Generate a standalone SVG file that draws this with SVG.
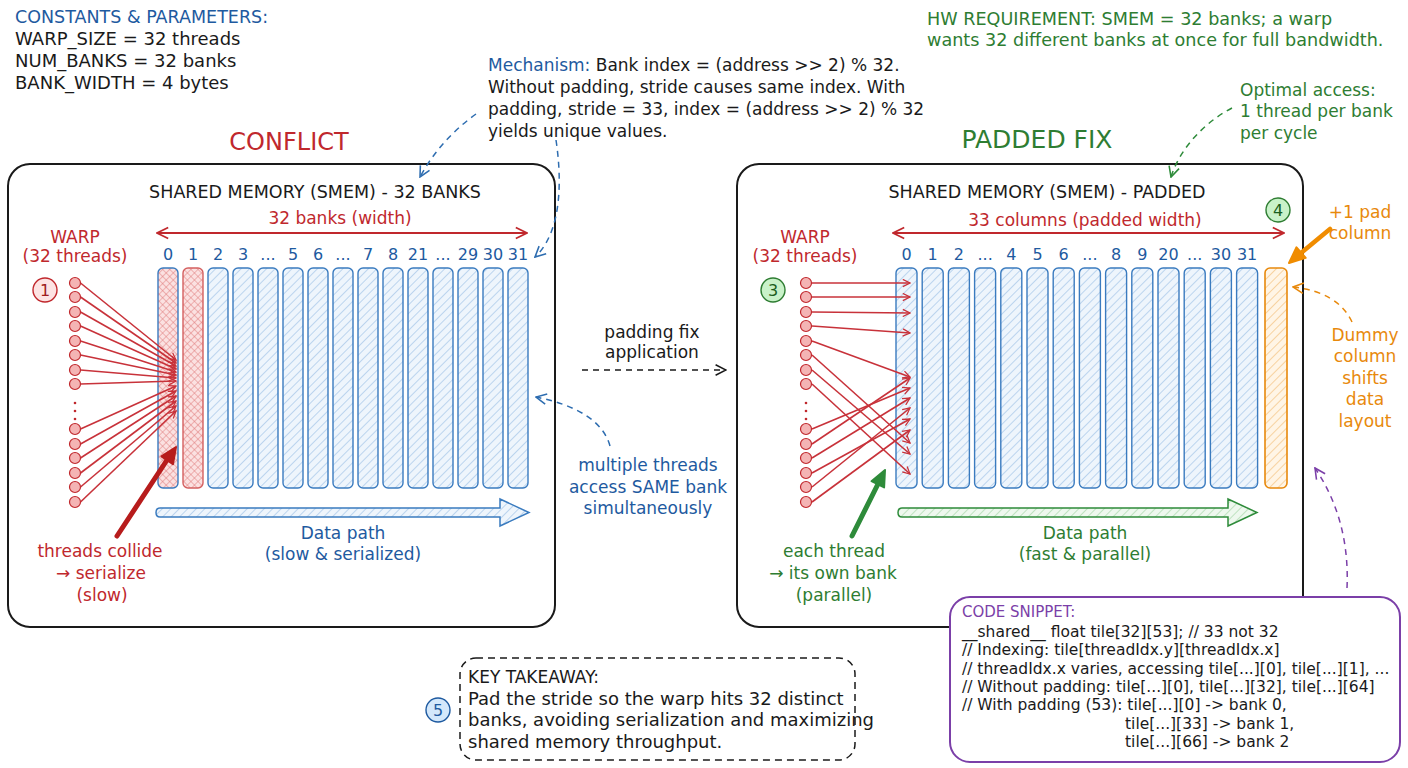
<svg xmlns="http://www.w3.org/2000/svg" width="1408" height="768" viewBox="0 0 1408 768">
<defs>
<style>
text { font-family: "DejaVu Sans", "Liberation Sans", sans-serif; }
.t18 { font-size: 18px; }
.t17 { font-size: 17px; }
.t16 { font-size: 16px; }
.t15 { font-size: 15.5px; }
.mid { text-anchor: middle; }
.blue { fill: #1e5aa0; }
.red { fill: #c0282d; }
.green { fill: #2e7d32; }
.orange { fill: #e8890c; }
.purple { fill: #7b3fa8; }
.ink { fill: #1a1a1a; }
.col { stroke: #3a7bbf; stroke-width: 1.4; fill: url(#hatchBlue); }
.thr { fill: #f4b4b4; stroke: #c0282d; stroke-width: 1.2; }
.tl { stroke: #c8323a; stroke-width: 1.6; fill: none; marker-end: url(#mThr); }
.dash { fill: none; stroke-width: 1.5; stroke-dasharray: 6 5; }
</style>
<pattern id="hatchBlue" width="6" height="6" patternUnits="userSpaceOnUse" patternTransform="rotate(45)">
<rect width="6" height="6" fill="#eef5fc"/>
<line x1="0" y1="0" x2="0" y2="6" stroke="#9fc3e7" stroke-width="1.3"/>
</pattern>
<pattern id="hatchRed" width="5" height="5" patternUnits="userSpaceOnUse" patternTransform="rotate(45)">
<rect width="5" height="5" fill="#fbe1e1"/>
<path d="M0 0V5M0 0H5" stroke="#e07b7b" stroke-width="1"/>
</pattern>
<pattern id="hatchGreen" width="6" height="6" patternUnits="userSpaceOnUse" patternTransform="rotate(45)">
<rect width="6" height="6" fill="#eef8ee"/>
<line x1="0" y1="0" x2="0" y2="6" stroke="#a5d6a7" stroke-width="1.3"/>
</pattern>
<pattern id="hatchOrange" width="6" height="6" patternUnits="userSpaceOnUse" patternTransform="rotate(45)">
<rect width="6" height="6" fill="#fff5e6"/>
<line x1="0" y1="0" x2="0" y2="6" stroke="#f3c07a" stroke-width="1.3"/>
</pattern>
<marker id="mThr" viewBox="0 0 10 10" refX="9" refY="5" markerWidth="9" markerHeight="9" markerUnits="userSpaceOnUse" orient="auto">
<path d="M1 1 L9 5 L1 9" fill="none" stroke="#c8323a" stroke-width="1.4"/>
</marker>
<marker id="mRedBig" viewBox="0 0 10 10" refX="9" refY="5" markerWidth="14" markerHeight="14" markerUnits="userSpaceOnUse" orient="auto-start-reverse">
<path d="M1 1 L9 5 L1 9" fill="none" stroke="#c0282d" stroke-width="1.2"/>
</marker>
<marker id="mBlue" viewBox="0 0 10 10" refX="9" refY="5" markerWidth="13" markerHeight="13" markerUnits="userSpaceOnUse" orient="auto">
<path d="M1 1 L9 5 L1 9" fill="none" stroke="#2e6db0" stroke-width="1.2"/>
</marker>
<marker id="mBlack" viewBox="0 0 10 10" refX="9" refY="5" markerWidth="13" markerHeight="13" markerUnits="userSpaceOnUse" orient="auto">
<path d="M1 1 L9 5 L1 9" fill="none" stroke="#1a1a1a" stroke-width="1.2"/>
</marker>
<marker id="mGreen" viewBox="0 0 10 10" refX="9" refY="5" markerWidth="13" markerHeight="13" markerUnits="userSpaceOnUse" orient="auto">
<path d="M1 1 L9 5 L1 9" fill="none" stroke="#2e8b3a" stroke-width="1.2"/>
</marker>
<marker id="mOrange" viewBox="0 0 10 10" refX="9" refY="5" markerWidth="13" markerHeight="13" markerUnits="userSpaceOnUse" orient="auto">
<path d="M1 1 L9 5 L1 9" fill="none" stroke="#e8890c" stroke-width="1.2"/>
</marker>
<marker id="mPurple" viewBox="0 0 10 10" refX="9" refY="5" markerWidth="13" markerHeight="13" markerUnits="userSpaceOnUse" orient="auto">
<path d="M1 1 L9 5 L1 9" fill="none" stroke="#7b3fa8" stroke-width="1.2"/>
</marker>
</defs>

<rect width="1408" height="768" fill="#ffffff"/>

<!-- Top annotations -->
<g id="constants">
<text x="15" y="23" class="blue" style="font-size:17.5px">CONSTANTS &amp; PARAMETERS:</text>
<text x="15" y="45" class="ink t18">WARP_SIZE = 32 threads</text>
<text x="15" y="67" class="ink t18">NUM_BANKS = 32 banks</text>
<text x="15" y="89" class="ink t18">BANK_WIDTH = 4 bytes</text>
</g>

<g id="mechanism">
<text x="488" y="71" class="t17 ink"><tspan class="blue">Mechanism:</tspan> Bank index = (address &gt;&gt; 2) % 32.</text>
<text x="488" y="93" class="t17 ink">Without padding, stride causes same index. With</text>
<text x="488" y="115" class="t17 ink">padding, stride = 33, index = (address &gt;&gt; 2) % 32</text>
<text x="488" y="137" class="t17 ink">yields unique values.</text>
</g>

<g id="hw-requirement">
<text x="927" y="25" class="green" style="font-size:17.6px">HW REQUIREMENT: SMEM = 32 banks; a warp</text>
<text x="927" y="46" class="green" style="font-size:17.6px">wants 32 different banks at once for full bandwidth.</text>
</g>

<g id="optimal-access">
<text x="1240" y="96" class="t17 green">Optimal access:</text>
<text x="1240" y="117" class="t17 green">1 thread per bank</text>
<text x="1240" y="139" class="t17 green">per cycle</text>
</g>

<text x="289" y="150" class="mid red" style="font-size:24px">CONFLICT</text>
<text x="1037" y="148" class="mid green" style="font-size:25px">PADDED FIX</text>

<!-- Left panel -->
<g id="conflict-panel">
<rect x="8" y="164" width="547" height="463" rx="22" fill="#ffffff" stroke="#1a1a1a" stroke-width="2"/>
<text x="315" y="198" class="mid ink" style="font-size:17.5px">SHARED MEMORY (SMEM) - 32 BANKS</text>
<text x="340" y="224" class="mid red t17">32 banks (width)</text>
<line x1="157" y1="233" x2="527" y2="233" stroke="#c0282d" stroke-width="1.8" marker-start="url(#mRedBig)" marker-end="url(#mRedBig)"/>
<text x="75" y="243" class="mid red t17">WARP</text>
<text x="75" y="262" class="mid red t17">(32 threads)</text>
<g class="blue t16 mid">
<text x="168" y="260">0</text><text x="193" y="260">1</text><text x="218" y="260">2</text><text x="243" y="260">3</text>
<text x="268" y="260">...</text><text x="293" y="260">5</text><text x="318" y="260">6</text><text x="343" y="260">...</text>
<text x="368" y="260">7</text><text x="393" y="260">8</text><text x="418" y="260">21</text><text x="443" y="260">...</text>
<text x="468" y="260">29</text><text x="493" y="260">30</text><text x="518" y="260">31</text>
</g>
<rect x="158" y="268" width="20" height="220" rx="5" fill="url(#hatchRed)" stroke="#3a7bbf" stroke-width="1.4"/>
<rect x="183" y="268" width="20" height="220" rx="5" fill="url(#hatchRed)" stroke="#d46060" stroke-width="1.4"/>
<rect class="col" x="208" y="268" width="20" height="220" rx="5"/>
<rect class="col" x="233" y="268" width="20" height="220" rx="5"/>
<rect class="col" x="258" y="268" width="20" height="220" rx="5"/>
<rect class="col" x="283" y="268" width="20" height="220" rx="5"/>
<rect class="col" x="308" y="268" width="20" height="220" rx="5"/>
<rect class="col" x="333" y="268" width="20" height="220" rx="5"/>
<rect class="col" x="358" y="268" width="20" height="220" rx="5"/>
<rect class="col" x="383" y="268" width="20" height="220" rx="5"/>
<rect class="col" x="408" y="268" width="20" height="220" rx="5"/>
<rect class="col" x="433" y="268" width="20" height="220" rx="5"/>
<rect class="col" x="458" y="268" width="20" height="220" rx="5"/>
<rect class="col" x="483" y="268" width="20" height="220" rx="5"/>
<rect class="col" x="508" y="268" width="20" height="220" rx="5"/>
<circle cx="45" cy="290" r="12" fill="#fde3e3" stroke="#c0282d" stroke-width="1.4"/>
<text x="45" y="296" class="mid t16" style="fill:#9e1c1c">1</text>
<g>
<circle class="thr" cx="75" cy="283" r="5.5"/><circle class="thr" cx="75" cy="297" r="5.5"/>
<circle class="thr" cx="75" cy="312" r="5.5"/><circle class="thr" cx="75" cy="326" r="5.5"/>
<circle class="thr" cx="75" cy="341" r="5.5"/><circle class="thr" cx="75" cy="355" r="5.5"/>
<circle class="thr" cx="75" cy="370" r="5.5"/><circle class="thr" cx="75" cy="384" r="5.5"/>
<circle cx="75" cy="403" r="1.3" fill="#c0282d"/><circle cx="75" cy="411" r="1.3" fill="#c0282d"/><circle cx="75" cy="419" r="1.3" fill="#c0282d"/>
<circle class="thr" cx="75" cy="429" r="5.5"/><circle class="thr" cx="75" cy="444" r="5.5"/>
<circle class="thr" cx="75" cy="458" r="5.5"/><circle class="thr" cx="75" cy="473" r="5.5"/>
<circle class="thr" cx="75" cy="487" r="5.5"/><circle class="thr" cx="75" cy="502" r="5.5"/>
</g>
<path d="M160 508 H500 V499 L529 512.5 L500 526 V517 H160 Q156 517 156 512.5 Q156 508 160 508 Z" fill="url(#hatchBlue)" stroke="#3a7bbf" stroke-width="1.5"/>
<text x="343" y="539" class="mid blue t17">Data path</text>
<text x="343" y="560" class="mid blue t17">(slow &amp; serialized)</text>
<text x="100" y="557" class="mid red t17">threads collide</text>
<text x="101" y="579" class="mid red t17">→ serialize</text>
<text x="102" y="601" class="mid red t17">(slow)</text>
</g>

<!-- Right panel -->
<g id="padded-panel">
<rect x="737" y="164" width="566" height="463" rx="22" fill="#ffffff" stroke="#1a1a1a" stroke-width="2"/>
<text x="1047" y="198" class="mid ink" style="font-size:17.5px">SHARED MEMORY (SMEM) - PADDED</text>
<text x="1085" y="226" class="mid red t17">33 columns (padded width)</text>
<line x1="893" y1="233" x2="1284" y2="233" stroke="#c0282d" stroke-width="1.8" marker-start="url(#mRedBig)" marker-end="url(#mRedBig)"/>
<text x="805" y="243" class="mid red t17">WARP</text>
<text x="805" y="262" class="mid red t17">(32 threads)</text>
<g class="blue t16 mid">
<text x="906.5" y="260">0</text><text x="932.7" y="260">1</text><text x="958.9" y="260">2</text><text x="985.1" y="260">...</text>
<text x="1011.3" y="260">4</text><text x="1037.5" y="260">5</text><text x="1063.7" y="260">6</text><text x="1089.9" y="260">...</text>
<text x="1116.1" y="260">8</text><text x="1142.3" y="260">9</text><text x="1168.5" y="260">20</text><text x="1194.7" y="260">...</text>
<text x="1220.9" y="260">30</text><text x="1247.1" y="260">31</text>
</g>
<rect class="col" x="896" y="268" width="21" height="220" rx="5"/>
<rect class="col" x="922.2" y="268" width="21" height="220" rx="5"/>
<rect class="col" x="948.4" y="268" width="21" height="220" rx="5"/>
<rect class="col" x="974.6" y="268" width="21" height="220" rx="5"/>
<rect class="col" x="1000.8" y="268" width="21" height="220" rx="5"/>
<rect class="col" x="1027" y="268" width="21" height="220" rx="5"/>
<rect class="col" x="1053.2" y="268" width="21" height="220" rx="5"/>
<rect class="col" x="1079.4" y="268" width="21" height="220" rx="5"/>
<rect class="col" x="1105.6" y="268" width="21" height="220" rx="5"/>
<rect class="col" x="1131.8" y="268" width="21" height="220" rx="5"/>
<rect class="col" x="1158" y="268" width="21" height="220" rx="5"/>
<rect class="col" x="1184.2" y="268" width="21" height="220" rx="5"/>
<rect class="col" x="1210.4" y="268" width="21" height="220" rx="5"/>
<rect class="col" x="1236.6" y="268" width="21" height="220" rx="5"/>
<rect x="1265" y="268" width="22" height="220" rx="5" fill="url(#hatchOrange)" stroke="#e8890c" stroke-width="1.6"/>
<circle cx="773" cy="290" r="12" fill="#c9f2c9" stroke="#2e7d32" stroke-width="1.4"/>
<text x="773" y="296" class="mid t16" style="fill:#1b5e20">3</text>
<circle cx="1278" cy="210" r="12" fill="#c9f2c9" stroke="#2e7d32" stroke-width="1.4"/>
<text x="1278" y="216" class="mid t16" style="fill:#1b5e20">4</text>
<g>
<circle class="thr" cx="806" cy="283" r="5.5"/><circle class="thr" cx="806" cy="297" r="5.5"/>
<circle class="thr" cx="806" cy="312" r="5.5"/><circle class="thr" cx="806" cy="326" r="5.5"/>
<circle class="thr" cx="806" cy="341" r="5.5"/><circle class="thr" cx="806" cy="355" r="5.5"/>
<circle class="thr" cx="806" cy="370" r="5.5"/><circle class="thr" cx="806" cy="384" r="5.5"/>
<circle cx="806" cy="403" r="1.3" fill="#c0282d"/><circle cx="806" cy="411" r="1.3" fill="#c0282d"/><circle cx="806" cy="419" r="1.3" fill="#c0282d"/>
<circle class="thr" cx="806" cy="429" r="5.5"/><circle class="thr" cx="806" cy="444" r="5.5"/>
<circle class="thr" cx="806" cy="458" r="5.5"/><circle class="thr" cx="806" cy="473" r="5.5"/>
<circle class="thr" cx="806" cy="487" r="5.5"/><circle class="thr" cx="806" cy="502" r="5.5"/>
</g>
<path d="M902 508 H1228 V499 L1257 512.5 L1228 526 V517 H902 Q898 517 898 512.5 Q898 508 902 508 Z" fill="url(#hatchGreen)" stroke="#2e8b3a" stroke-width="1.5"/>
<text x="1085" y="539" class="mid green t17">Data path</text>
<text x="1085" y="560" class="mid green t17">(fast &amp; parallel)</text>
<text x="834" y="557" class="mid green t17">each thread</text>
<text x="833" y="579" class="mid green t17">→ its own bank</text>
<text x="834" y="601" class="mid green t17">(parallel)</text>
</g>

<g id="pad-note">
<text x="1360" y="218" class="mid orange t17">+1 pad</text>
<text x="1360" y="239" class="mid orange t17">column</text>
<text x="1365" y="341" class="mid orange t17">Dummy</text>
<text x="1365" y="362" class="mid orange t17">column</text>
<text x="1365" y="384" class="mid orange t17">shifts</text>
<text x="1365" y="405" class="mid orange t17">data</text>
<text x="1365" y="427" class="mid orange t17">layout</text>
</g>

<g id="middle-notes">
<text x="652" y="338" class="mid ink t17">padding fix</text>
<text x="652" y="358" class="mid ink t17">application</text>
<text x="648" y="471" class="mid blue t17">multiple threads</text>
<text x="648" y="493" class="mid blue t17">access SAME bank</text>
<text x="648" y="514" class="mid blue t17">simultaneously</text>
</g>

<!-- Connectors -->
<g id="connectors">
<g id="left-thread-arrows">
<line class="tl" x1="80.5" y1="283" x2="176" y2="360"/>
<line class="tl" x1="80.5" y1="297" x2="176" y2="363"/>
<line class="tl" x1="80.5" y1="312" x2="176" y2="366"/>
<line class="tl" x1="80.5" y1="326" x2="176" y2="369"/>
<line class="tl" x1="80.5" y1="341" x2="176" y2="372"/>
<line class="tl" x1="80.5" y1="355" x2="176" y2="375"/>
<line class="tl" x1="80.5" y1="370" x2="176" y2="378"/>
<line class="tl" x1="80.5" y1="384" x2="176" y2="381"/>
<line class="tl" x1="80.5" y1="429" x2="176" y2="386"/>
<line class="tl" x1="80.5" y1="444" x2="176" y2="391"/>
<line class="tl" x1="80.5" y1="458" x2="176" y2="396"/>
<line class="tl" x1="80.5" y1="473" x2="176" y2="401"/>
<line class="tl" x1="80.5" y1="487" x2="176" y2="406"/>
<line class="tl" x1="80.5" y1="502" x2="176" y2="411"/>
</g>
<g id="right-thread-arrows">
<line class="tl" x1="812" y1="283" x2="910" y2="283"/>
<line class="tl" x1="812" y1="297" x2="910" y2="297"/>
<line class="tl" x1="812" y1="312" x2="910" y2="313"/>
<line class="tl" x1="812" y1="326" x2="910" y2="333"/>
<line class="tl" x1="812" y1="341" x2="910" y2="377"/>
<line class="tl" x1="812" y1="355" x2="910" y2="443"/>
<line class="tl" x1="812" y1="370" x2="910" y2="454"/>
<line class="tl" x1="812" y1="384" x2="910" y2="474"/>
<line class="tl" x1="812" y1="429" x2="910" y2="388"/>
<line class="tl" x1="812" y1="444" x2="910" y2="378"/>
<line class="tl" x1="812" y1="458" x2="910" y2="398"/>
<line class="tl" x1="812" y1="473" x2="910" y2="419"/>
<line class="tl" x1="812" y1="487" x2="910" y2="408"/>
<line class="tl" x1="812" y1="502" x2="910" y2="430"/>
</g>
<line x1="117" y1="536" x2="167" y2="460" stroke="#b71c1c" stroke-width="5" stroke-linecap="round"/>
<polygon points="176,447 173,464.2 161.4,456.4" fill="#b71c1c" stroke="#b71c1c" stroke-width="2" stroke-linejoin="round"/>
<line x1="852" y1="536" x2="878" y2="484" stroke="#2e8b3a" stroke-width="5" stroke-linecap="round"/>
<polygon points="885,470 884.1,487.4 871.5,481.2" fill="#2e8b3a" stroke="#2e8b3a" stroke-width="2" stroke-linejoin="round"/>
<line x1="1330" y1="229" x2="1301" y2="253" stroke="#f08c00" stroke-width="4.5" stroke-linecap="round"/>
<polygon points="1289,263 1305.7,257.9 1296.5,247.3" fill="#f08c00" stroke="#f08c00" stroke-width="2" stroke-linejoin="round"/>
<path class="dash" d="M476 114 Q440 140 420 177" stroke="#2e6db0" marker-end="url(#mBlue)"/>
<path class="dash" d="M556 140 C562 180 562 232 535 257" stroke="#2e6db0" marker-end="url(#mBlue)"/>
<path class="dash" d="M610 446 Q600 410 536 397" stroke="#2e6db0" marker-end="url(#mBlue)"/>
<path class="dash" d="M582 370 L726 370" stroke="#1a1a1a" marker-end="url(#mBlack)"/>
<path class="dash" d="M1232 108 C1205 122 1180 148 1171 177" stroke="#2e8b3a" marker-end="url(#mGreen)"/>
<path class="dash" d="M1352 322 Q1338 292 1293 287" stroke="#e8890c" marker-end="url(#mOrange)"/>
<path class="dash" d="M1347 588 Q1350 520 1315 468" stroke="#7b3fa8" marker-end="url(#mPurple)"/>
</g>

<!-- Code snippet -->
<g id="code-snippet">
<rect x="950" y="597" width="450" height="165" rx="20" fill="#ffffff" stroke="#7b3fa8" stroke-width="2"/>
<text x="962" y="617" class="purple" style="font-size:15px">CODE SNIPPET:</text>
<g class="ink t15">
<text x="962" y="637">__shared__ float tile[32][53]; // 33 not 32</text>
<text x="962" y="655">// Indexing: tile[threadIdx.y][threadIdx.x]</text>
<text x="962" y="674">// threadIdx.x varies, accessing tile[...][0], tile[...][1], ...</text>
<text x="962" y="692">// Without padding: tile[...][0], tile[...][32], tile[...][64]</text>
<text x="962" y="710">// With padding (53): tile[...][0] -&gt; bank 0,</text>
<text x="1125" y="729">tile[...][33] -&gt; bank 1,</text>
<text x="1125" y="747">tile[...][66] -&gt; bank 2</text>
</g>
</g>

<!-- Key takeaway -->
<g id="key-takeaway">
<rect x="460" y="658" width="395" height="102" rx="16" fill="none" stroke="#1a1a1a" stroke-width="1.5" stroke-dasharray="7 5"/>
<circle cx="438" cy="710" r="12" fill="#d4e8fb" stroke="#1e5aa0" stroke-width="1.4"/>
<text x="438" y="716" class="mid blue t16">5</text>
<text x="468" y="683" class="ink t17">KEY TAKEAWAY:</text>
<text x="468" y="705" class="ink t18">Pad the stride so the warp hits 32 distinct</text>
<text x="468" y="726" class="ink t18">banks, avoiding serialization and maximizing</text>
<text x="468" y="748" class="ink t18">shared memory throughput.</text>
</g>
</svg>
